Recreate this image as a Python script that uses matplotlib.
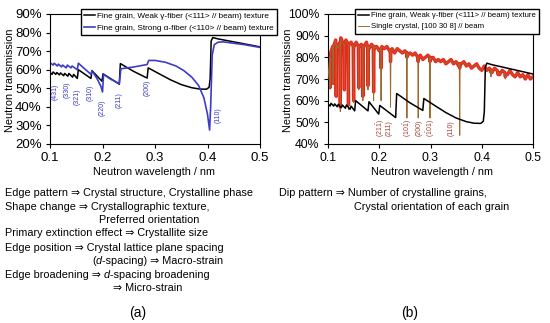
import numpy as np
import matplotlib
matplotlib.use("Agg")
import matplotlib.pyplot as plt

plt.rcParams['font.family'] = ['Liberation Sans', 'DejaVu Sans']
plt.rcParams['mathtext.fontset'] = 'custom'
plt.rcParams['mathtext.rm'] = 'Liberation Sans'
plt.rcParams['mathtext.it'] = 'Liberation Sans:italic'

# fine grain, weak gamma-fiber texture (black)
wl_weak = [0.100, 0.104, 0.106, 0.111, 0.113, 0.118, 0.120, 0.126, 0.128, 0.134,
           0.136, 0.143, 0.145, 0.152, 0.154, 0.178, 0.180, 0.199, 0.201, 0.232,
           0.234, 0.260, 0.285, 0.287, 0.310, 0.330, 0.350, 0.370, 0.385, 0.398,
           0.403, 0.405, 0.407, 0.410, 0.420, 0.450, 0.500]
tr_weak = [58.5, 57.5, 58.8, 57.5, 58.5, 57.2, 58.3, 56.8, 58.0, 56.5,
           58.0, 56.0, 57.5, 55.3, 60.0, 55.3, 59.5, 53.8, 57.8, 52.2,
           63.3, 59.0, 55.5, 61.0, 57.5, 54.5, 52.0, 50.3, 49.6, 49.5,
           50.5, 55.0, 75.5, 77.3, 76.6, 75.0, 72.3]

# fine grain, strong alpha-fiber texture (blue)
wl_strong = [0.100, 0.106, 0.108, 0.114, 0.116, 0.122, 0.124, 0.131, 0.133, 0.140,
             0.142, 0.152, 0.154, 0.166, 0.178, 0.180, 0.190, 0.197, 0.200, 0.202,
             0.215, 0.232, 0.235, 0.260, 0.285, 0.288, 0.300, 0.320, 0.340, 0.355,
             0.370, 0.383, 0.393, 0.400, 0.404, 0.406, 0.409, 0.413, 0.420, 0.430,
             0.470, 0.500]
tr_strong = [63.8, 62.5, 63.5, 62.0, 63.0, 61.5, 62.5, 61.0, 62.5, 61.0,
             62.0, 60.0, 63.5, 60.5, 57.5, 59.5, 55.0, 51.0, 48.0, 57.5,
             55.0, 52.5, 60.5, 61.5, 62.8, 65.0, 65.0, 64.0, 62.0, 59.5,
             56.0, 51.5, 45.0, 36.0, 27.5, 40.0, 68.0, 73.5, 74.8, 75.0,
             73.5, 72.0]

# single crystal spectrum (base values)
wl_sc = [0.100, 0.105, 0.110, 0.115, 0.120, 0.125, 0.130, 0.135, 0.140, 0.145,
         0.150, 0.155, 0.160, 0.165, 0.170, 0.175, 0.180, 0.185, 0.190, 0.195,
         0.200, 0.205, 0.210, 0.215, 0.220, 0.225, 0.230, 0.235, 0.240, 0.245,
         0.250, 0.255, 0.260, 0.265, 0.270, 0.275, 0.280, 0.285, 0.290, 0.295,
         0.300, 0.305, 0.310, 0.315, 0.320, 0.325, 0.330, 0.335, 0.340, 0.345,
         0.350, 0.355, 0.360, 0.365, 0.370, 0.375, 0.380, 0.385, 0.390, 0.395,
         0.400, 0.405, 0.410, 0.415, 0.420, 0.425, 0.430, 0.435, 0.440, 0.445,
         0.450, 0.455, 0.460, 0.465, 0.470, 0.475, 0.480, 0.485, 0.490, 0.495,
         0.500]
tr_sc = [70, 82, 76, 88, 84, 89, 86, 88, 84, 87,
         85, 87, 84, 86, 85, 87, 84, 86, 84, 85,
         83, 85, 84, 85, 83, 84, 82, 84, 83, 82,
         83, 81, 82, 81, 82, 80, 81, 79, 80, 81,
         79, 80, 78, 79, 78, 79, 77, 78, 79, 77,
         78, 76, 77, 78, 76, 77, 75, 76, 77, 75,
         74, 76, 74, 75, 73, 75, 74, 72, 74, 73,
         72, 74, 72, 71, 73, 71, 72, 70, 72, 70,
         71]

# dips of the single crystal
dip_wl = [0.104, 0.110, 0.116, 0.124, 0.132, 0.140, 0.150, 0.160, 0.168, 0.178,
          0.189, 0.2035, 0.222, 0.254, 0.276, 0.299, 0.357, 0.418, 0.432, 0.446]
dip_top = [80, 85, 86, 87, 86, 86, 85, 85, 85, 85,
           85, 84, 83, 82, 80, 80, 77, 74, 73, 72]
dip_min = [66, 68, 62, 55, 65, 56, 59, 65, 60, 65,
           60, 60, 57, 52, 52, 52, 44, 71, 72, 70]
dip_min_red = [66, 68, 62, 57, 65, 58, 60, 66, 62, 67,
               64, 75, 78, 80, 78, 78, 75, 73, 72, 71]

left_labels = ["(431)", "(330)", "(321)", "(310)", "(220)", "(211)", "(200)", "(110)"]
left_lab_x = [0.110, 0.132, 0.151, 0.176, 0.199, 0.231, 0.285, 0.421]
left_lab_y = [48.3, 49.0, 45.5, 47.7, 39.3, 43.7, 50.0, 35.7]

right_labels = [r"(21$\bar{1}$)", "(211)", r"(10$\bar{1}$)", "(200)", r"($\bar{1}$01)", "(110)"]
right_lab_x = [0.204, 0.220, 0.255, 0.277, 0.301, 0.341]
right_lab_y = [47.5, 47.5, 47.5, 47.5, 47.5, 47.5]


def with_dips(wl, tr, bottoms):
    pts = list(zip(wl, tr))
    for d, t, b in zip(dip_wl, dip_top, bottoms):
        pts += [(d - 0.0008, t), (d, b), (d + 0.0008, t)]
    pts.sort()
    return [p[0] for p in pts], [p[1] for p in pts]


sc_x, sc_y = with_dips(wl_sc, tr_sc, dip_min)
red_x, red_y = with_dips(wl_sc, tr_sc, dip_min_red)

fig = plt.figure(figsize=(5.5, 3.23), dpi=100)
ax1 = fig.add_axes([50/550, 1-144/323, 210/550, 130/323])
ax2 = fig.add_axes([328/550, 1-144/323, 205/550, 130/323])

blue = '#3c3cc8'
brown = '#9c6a2c'

ax1.plot(wl_weak, tr_weak, color='black', lw=1.1,
         label="Fine grain, Weak \u03b3-fiber (<111> // beam) texture")
ax1.plot(wl_strong, tr_strong, color=blue, lw=1.2,
         label="Fine grain, Strong \u03b1-fiber (<110> // beam) texture")
for t, x, y in zip(left_labels, left_lab_x, left_lab_y):
    ax1.text(x, y, t, rotation=90, fontsize=5, color=blue, ha='center', va='center')

ax2.plot(red_x, red_y, color='#ff1a1a', lw=2.4, zorder=2)
ax2.plot(sc_x, sc_y, color=brown, lw=0.7, zorder=3,
         label="Single crystal, [100 30 8] // beam")
ax2.plot(wl_weak, tr_weak, color='black', lw=1.1, zorder=4,
         label="Fine grain, Weak \u03b3-fiber (<111> // beam) texture")
for t, x, y in zip(right_labels, right_lab_x, right_lab_y):
    ax2.text(x, y, t, rotation=90, fontsize=5, color='#a04030', ha='center', va='center')

ax1.set_ylim(20, 90)
ax1.set_yticks([20, 30, 40, 50, 60, 70, 80, 90])
ax2.set_ylim(40, 100)
ax2.set_yticks([40, 50, 60, 70, 80, 90, 100])
for ax, fs in ((ax1, 9.5), (ax2, 8.8)):
    ax.set_xlim(0.1, 0.5)
    ax.set_xticks([0.1, 0.2, 0.3, 0.4, 0.5])
    ax.set_xticklabels(["0.1", "0.2", "0.3", "0.4", "0.5"])
    ax.set_yticklabels(["%d%%" % v for v in ax.get_yticks()])
    ax.tick_params(direction='out', length=3, width=0.8, labelsize=fs, pad=3)
    for s in ax.spines.values():
        s.set_linewidth(0.8)

h1, l1 = ax1.get_legend_handles_labels()
ax1.legend(h1, l1, loc='upper left', bbox_to_anchor=(77/550, 1-5/323),
           bbox_transform=fig.transFigure, fontsize=5.9, handlelength=1.3,
           handletextpad=0.3, borderpad=0.4, labelspacing=0.45, fancybox=False,
           edgecolor='black', framealpha=1)
h2, l2 = ax2.get_legend_handles_labels()
ax2.legend([h2[1], h2[0]], [l2[1], l2[0]], loc='upper left', bbox_to_anchor=(351/550, 1-5/323),
           bbox_transform=fig.transFigure, fontsize=5.6, handlelength=1.4,
           handletextpad=0.3, borderpad=0.4, labelspacing=0.45, fancybox=False,
           edgecolor='black', framealpha=1)

fig.text(10/550, 1-80/323, "Neutron transmission", rotation=90, fontsize=7.8, ha='center', va='center')
fig.text(288/550, 1-80/323, "Neutron transmission", rotation=90, fontsize=7.8, ha='center', va='center')
fig.text(154/550, 1-172/323, "Neutron wavelength / nm", fontsize=7.8, ha='center', va='center')
fig.text(432/550, 1-172/323, "Neutron wavelength / nm", fontsize=7.8, ha='center', va='center')

# each line is a list of (text, italic) pieces
lines_a = [
    (5, 193, [("Edge pattern \u21d2 Crystal structure, Crystalline phase", False)]),
    (5, 207, [("Shape change \u21d2 Crystallographic texture,", False)]),
    (99, 220, [("Preferred orientation", False)]),
    (5, 233, [("Primary extinction effect \u21d2 Crystallite size", False)]),
    (5, 248, [("Edge position \u21d2 Crystal lattice plane spacing", False)]),
    (92, 261, [("(", False), ("d", True), ("-spacing) \u21d2 Macro-strain", False)]),
    (5, 275, [("Edge broadening \u21d2", False), (" d", True), ("-spacing broadening", False)]),
    (113, 288, [("\u21d2 Micro-strain", False)]),
]
renderer = fig.canvas.get_renderer()
for x, y, pieces in lines_a:
    xpos = x
    for t, it in pieces:
        txt = fig.text(xpos/550, 1-y/323, t, fontsize=7.8, ha='left', va='center',
                       style='italic' if it else 'normal')
        xpos = txt.get_window_extent(renderer).x1

fig.text(279/550, 1-193/323, "Dip pattern \u21d2 Number of crystalline grains,", fontsize=7.8, ha='left', va='center')
fig.text(354/550, 1-207/323, "Crystal orientation of each grain", fontsize=7.8, ha='left', va='center')

fig.text(138/550, 1-313/323, "(a)", fontsize=10, ha='center', va='center')
fig.text(410/550, 1-313/323, "(b)", fontsize=10, ha='center', va='center')

fig.savefig("out.png", dpi=100)
